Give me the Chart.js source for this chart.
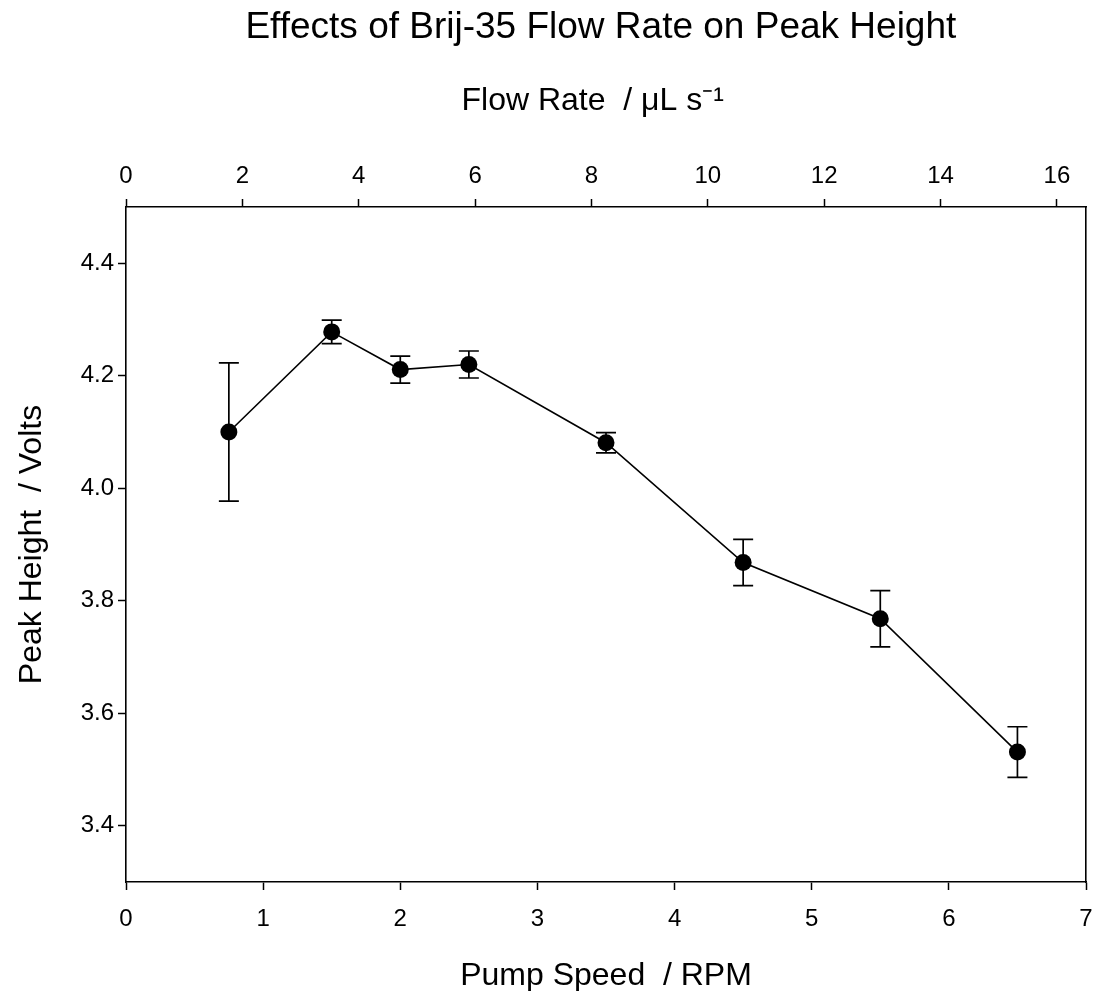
<!DOCTYPE html>
<html><head><meta charset="utf-8">
<script src="https://cdn.jsdelivr.net/npm/chart.js@4"></script>
<style>html,body{margin:0;padding:0;background:#fff}canvas{display:block}</style>
</head><body>
<canvas id="c" width="1098" height="991"></canvas>
<script>
const pumpSpeed = [0.75, 1.5, 2, 2.5, 3.5, 4.5, 5.5, 6.5];
const peakHeight = [4.100, 4.278, 4.211, 4.220, 4.081, 3.868, 3.768, 3.531];
const peakError = [0.123, 0.021, 0.024, 0.024, 0.018, 0.041, 0.050, 0.045];
const speedTicks = [0, 1, 2, 3, 4, 5, 6, 7];
const flowTicks = [0, 2, 4, 6, 8, 10, 12, 14, 16];
const heightTicks = [3.4, 3.6, 3.8, 4.0, 4.2, 4.4];

const FONT = "'Liberation Sans', Arial, sans-serif";
const BLACK = '#000';

const errorBars = {
  id: 'errorBars',
  beforeDatasetsDraw(chart) {
    const {ctx, scales: {x, y}} = chart;
    ctx.save();
    ctx.strokeStyle = BLACK;
    ctx.lineWidth = 1.7;
    pumpSpeed.forEach((s, i) => {
      const px = x.getPixelForValue(s);
      const top = y.getPixelForValue(peakHeight[i] + peakError[i]);
      const bot = y.getPixelForValue(peakHeight[i] - peakError[i]);
      ctx.beginPath();
      ctx.moveTo(px, top); ctx.lineTo(px, bot);
      ctx.moveTo(px - 10, top); ctx.lineTo(px + 10, top);
      ctx.moveTo(px - 10, bot); ctx.lineTo(px + 10, bot);
      ctx.stroke();
    });
    ctx.restore();
  }
};

const noPad = s => { s.paddingLeft = 0; s.paddingRight = 0; s.paddingTop = 0; s.paddingBottom = 0; };
const tickGrid = {drawOnChartArea: false, drawTicks: true, tickLength: 8, tickColor: BLACK, tickWidth: 1.5, color: BLACK};
const axisBorder = {display: true, color: BLACK, width: 1.6};

new Chart(document.getElementById('c'), {
  type: 'line',
  data: {
    datasets: [{
      data: pumpSpeed.map((s, i) => ({x: s, y: peakHeight[i]})),
      xAxisID: 'x', yAxisID: 'y',
      borderColor: BLACK, borderWidth: 1.6,
      pointRadius: 8.5, pointBackgroundColor: BLACK, pointBorderColor: BLACK, pointBorderWidth: 0,
      tension: 0, fill: false
    }]
  },
  options: {
    responsive: false,
    animation: false,
    layout: {padding: {left: 0, right: 12, top: 0, bottom: 0}},
    plugins: {
      legend: {display: false},
      tooltip: {enabled: false},
      title: {
        display: true, fullSize: false,
        text: 'Effects of Brij-35 Flow Rate on Peak Height ',
        color: BLACK, font: {family: FONT, size: 37, weight: 'normal'},
        padding: {top: 6, bottom: 0}
      }
    },
    scales: {
      x: {
        type: 'linear', position: 'bottom', min: 0, max: 7,
        afterBuildTicks: s => { s.ticks = speedTicks.map(v => ({value: v})); },
        afterFit: s => { s.height = 109; noPad(s); },
        ticks: {color: BLACK, font: {family: FONT, size: 24}, padding: 15, maxRotation: 0, autoSkip: false},
        grid: tickGrid, border: axisBorder,
        title: {display: true, text: 'Pump Speed  / RPM', color: BLACK, font: {family: FONT, size: 32}, padding: {bottom: -4, top: 0}}
      },
      x2: {
        type: 'linear', position: 'top', min: 0, max: 16.5,
        afterBuildTicks: s => { s.ticks = flowTicks.map(v => ({value: v})); },
        afterFit: s => { s.height = 156.6; noPad(s); },
        ticks: {color: BLACK, font: {family: FONT, size: 24}, padding: 8, maxRotation: 0, autoSkip: false},
        grid: tickGrid, border: axisBorder,
        title: {display: true, text: 'Flow Rate  / \u03BCL s\u207B\u00B9   ', color: BLACK, font: {family: FONT, size: 32}, padding: {top: 32, bottom: 0}}
      },
      y: {
        type: 'linear', position: 'left', min: 3.3, max: 4.5,
        afterBuildTicks: s => { s.ticks = heightTicks.map(v => ({value: v})); },
        afterFit: s => { s.width = 126; noPad(s); },
        ticks: {color: BLACK, font: {family: FONT, size: 24}, padding: 4, callback: v => Number(v).toFixed(1)},
        grid: tickGrid, border: axisBorder,
        title: {display: true, text: 'Peak Height  / Volts', color: BLACK, font: {family: FONT, size: 32}, padding: {top: 13, bottom: 0}}
      },
      y2: {
        type: 'linear', position: 'right', min: 3.3, max: 4.5,
        afterFit: s => { s.width = 0; noPad(s); },
        ticks: {display: false},
        grid: {display: true, drawOnChartArea: false, drawTicks: false, tickLength: 0},
        border: axisBorder
      }
    }
  },
  plugins: [errorBars]
});
</script>
</body></html>
